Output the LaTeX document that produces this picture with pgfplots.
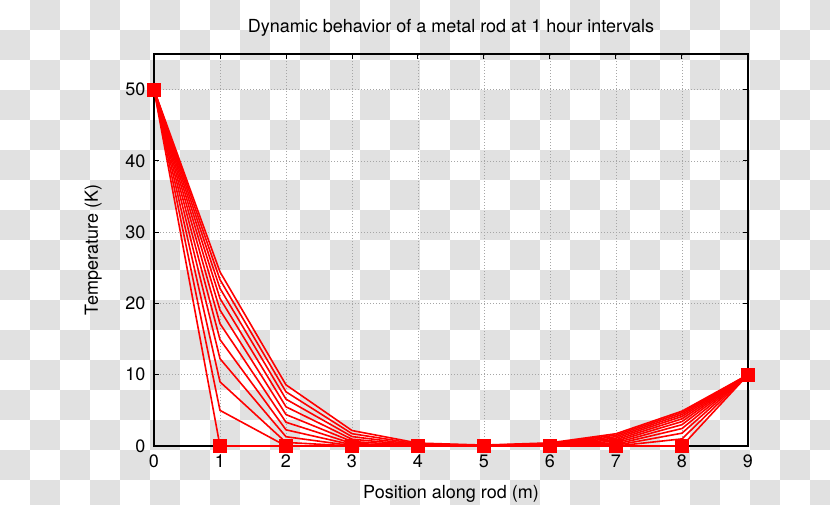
\documentclass[border=0pt]{standalone}
\usepackage{fontspec}
\setmainfont{TeX Gyre Heros}
\usepackage{xcolor}
\usepackage{pgfplots}
\pgfplotsset{compat=1.18}

\definecolor{chk}{RGB}{225,225,225}
\newcommand{\lab}{\fontsize{18}{21}\selectfont}

\begin{document}
\begin{tikzpicture}
  % picture frame, 1px = 1pt
  \useasboundingbox (0,0) rectangle (830pt,504pt);
  \begin{scope}
    \clip (0,0) rectangle (830pt,504pt);
    \foreach \i in {0,...,27} {
      \foreach \j in {0,...,16} {
        \pgfmathtruncatemacro\k{mod(\i+\j,2)}
        \ifnum\k=1
          \fill[chk] (30*\i pt,504pt-30*\j pt) rectangle ++(30pt,-30pt);
        \fi
      }
    }
  \end{scope}

  \begin{axis}[
      at={(154pt,58pt)}, anchor=south west,
      scale only axis, width=594pt, height=392pt,
      xmin=0, xmax=9, ymin=0, ymax=55,
      xtick={0,...,9}, ytick={0,10,...,50},
      clip=false,
      tick align=inside,
      major tick length=5pt,
      every tick/.style={black, line width=1pt},
      axis line style={black, line width=1.8pt},
      grid=major,
      major grid style={gray!70, line width=0.8pt, dash pattern=on 1pt off 2pt},
      /pgf/number format/assume math mode=true,
      xticklabel style={font=\lab, yshift=-5pt},
      yticklabel style={font=\lab, xshift=-5pt},
      every axis title shift=0pt,
      title={Dynamic behavior of a metal rod at 1 hour intervals},
      title style={font=\lab, at={(axis description cs:0.5,1.0536)}, anchor=base},
      xlabel={Position along rod (m)},
      xlabel style={font=\lab, at={(axis description cs:0.5,-0.1327)}, anchor=base},
      ylabel={Temperature (K)},
      ylabel style={font=\lab, at={(axis description cs:-0.0943,0.5)}, anchor=base},
      every axis plot/.append style={red, line width=1.6pt},
    ]
    % initial state, t = 0
    \addplot[mark=square*, mark size=6.2pt] coordinates {
      (0,50)(1,0)(2,0)(3,0)(4,0)(5,0)(6,0)(7,0)(8,0)(9,10)};
    % t = 1 .. 10 h
    \addplot[no marks] coordinates {
      (0,50)(1,5)(2,0)(3,0)(4,0)(5,0)(6,0)(7,0)(8,1)(9,10)};
    \addplot[no marks] coordinates {
      (0,50)(1,9)(2,0.5)(3,0)(4,0)(5,0)(6,0)(7,0.1)(8,1.8)(9,10)};
    \addplot[no marks] coordinates {
      (0,50)(1,12.25)(2,1.3)(3,0.05)(4,0)(5,0)(6,0.01)(7,0.26)(8,2.45)(9,10)};
    \addplot[no marks] coordinates {
      (0,50)(1,14.93)(2,2.27)(3,0.17)(4,0.01)(5,0)(6,0.03)(7,0.45)(8,2.99)(9,10)};
    \addplot[no marks] coordinates {
      (0,50)(1,17.17)(2,3.33)(3,0.36)(4,0.02)(5,0.01)(6,0.07)(7,0.67)(8,3.43)(9,10)};
    \addplot[no marks] coordinates {
      (0,50)(1,19.07)(2,4.41)(3,0.63)(4,0.05)(5,0.01)(6,0.13)(7,0.88)(8,3.81)(9,10)};
    \addplot[no marks] coordinates {
      (0,50)(1,20.70)(2,5.50)(3,0.95)(4,0.11)(5,0.03)(6,0.19)(7,1.10)(8,4.14)(9,10)};
    \addplot[no marks] coordinates {
      (0,50)(1,22.11)(2,6.57)(3,1.32)(4,0.18)(5,0.05)(6,0.26)(7,1.31)(8,4.42)(9,10)};
    \addplot[no marks] coordinates {
      (0,50)(1,23.34)(2,7.60)(3,1.73)(4,0.28)(5,0.09)(6,0.35)(7,1.52)(8,4.67)(9,10)};
    \addplot[no marks] coordinates {
      (0,50)(1,24.43)(2,8.58)(3,2.17)(4,0.41)(5,0.13)(6,0.44)(7,1.72)(8,4.89)(9,10)};
  \end{axis}
\end{tikzpicture}
\end{document}
